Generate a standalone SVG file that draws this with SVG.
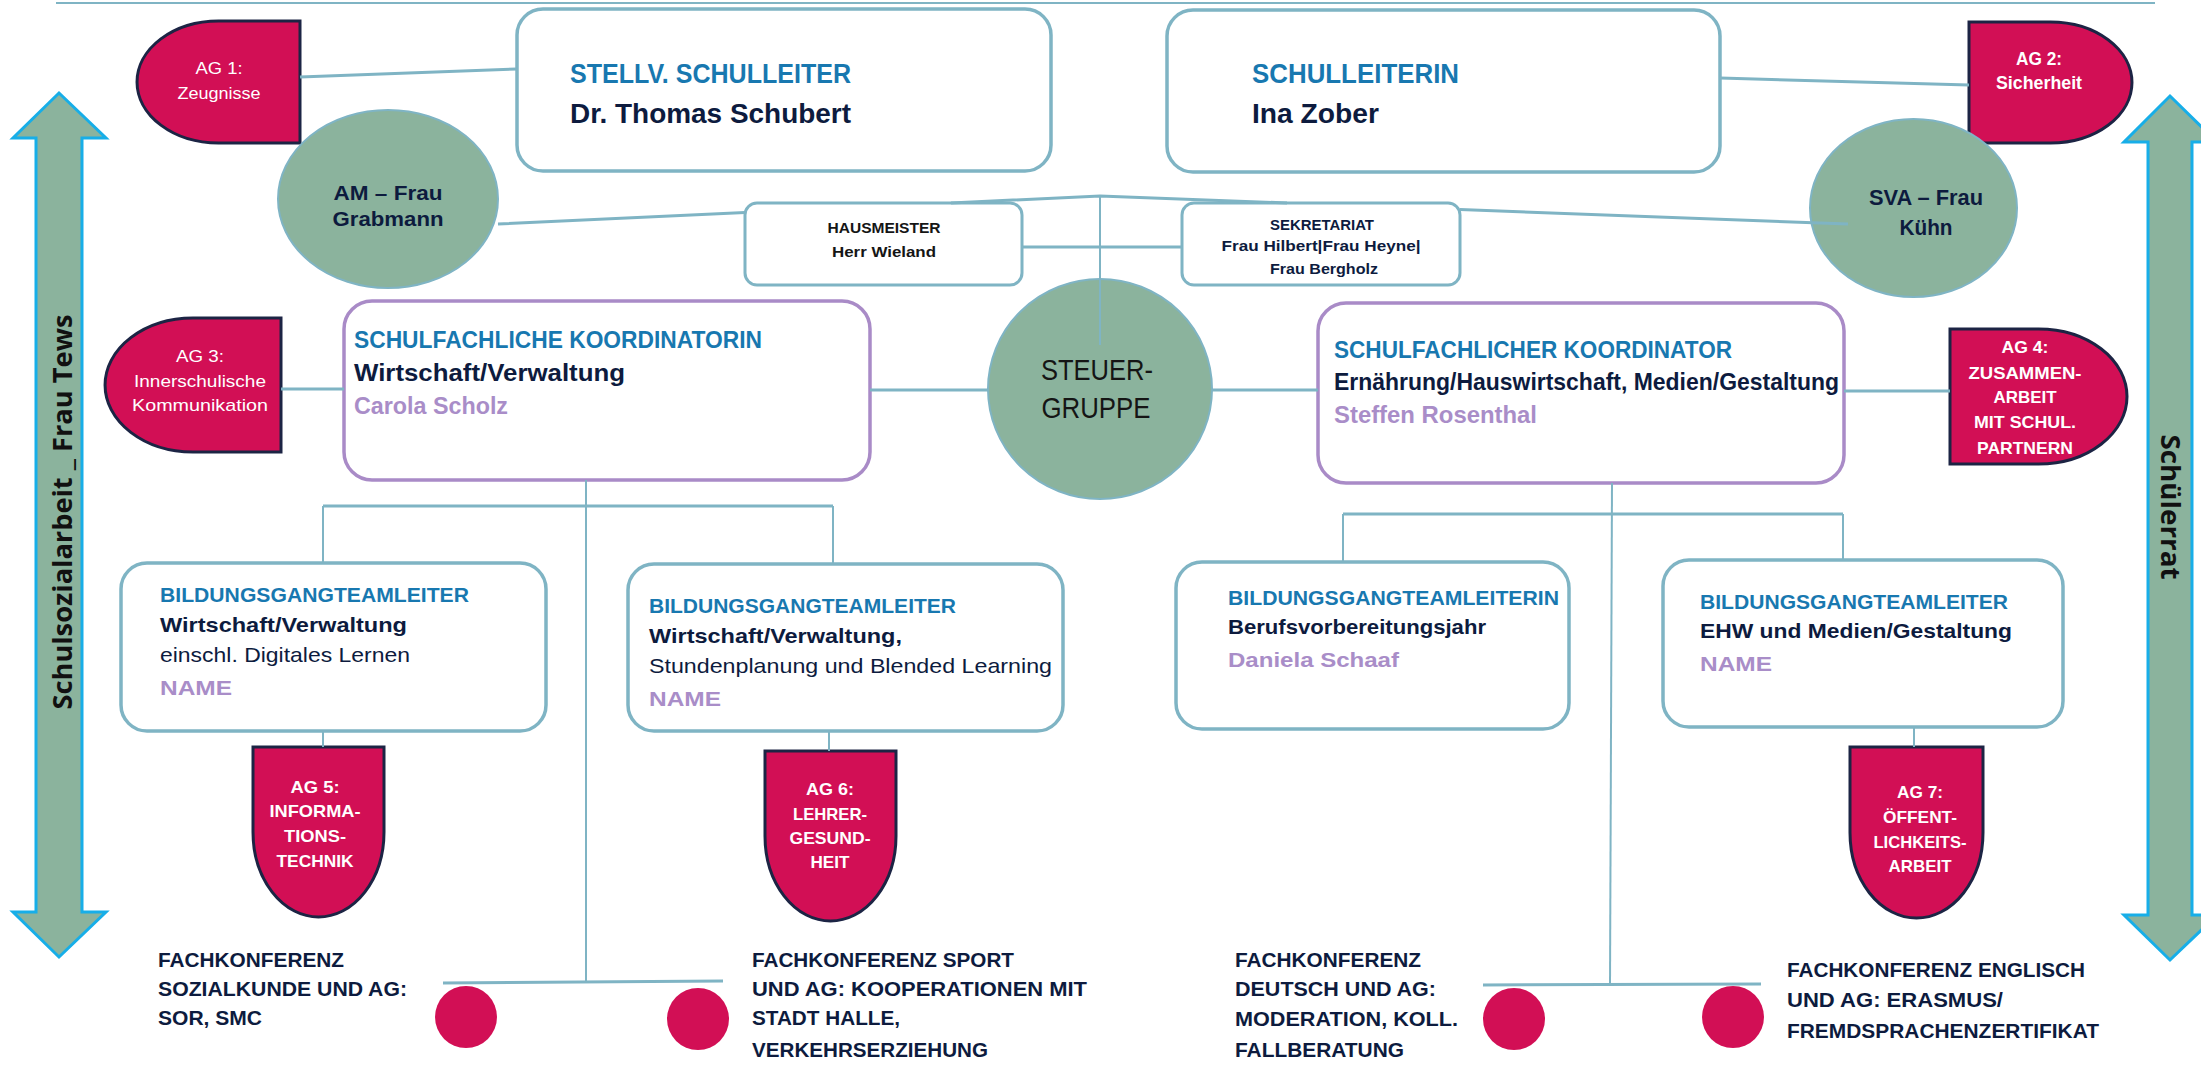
<svg xmlns="http://www.w3.org/2000/svg" width="2201" height="1073" viewBox="0 0 2201 1073">
<style>
text{font-family:"Liberation Sans",Arial,sans-serif}
.b{font-weight:bold}
.blue{fill:#1878b0}
.navy{fill:#0d1b3e}
.purp{fill:#a98dc8}
.wh{fill:#ffffff}
.blk{fill:#151515}
.side{font-family:"Open Sans","DejaVu Sans",sans-serif;font-weight:bold;fill:#111}
.tbox{fill:#ffffff;stroke:#7fb4c4;stroke-width:3.5}
.sbox{fill:#ffffff;stroke:#7fb4c4;stroke-width:3}
.pbox{fill:#ffffff;stroke:#a98bc7;stroke-width:3.5}
.ag{fill:#d20f55;stroke:#1c2444;stroke-width:3}
.ell{fill:#8bb39d;stroke:#7fb4c4;stroke-width:2}
.arr{fill:#8bb39d;stroke:#17aee8;stroke-width:3}
.con{fill:none;stroke:#7fb4c4;stroke-width:3}
.thin{fill:none;stroke:#7fb4c4;stroke-width:2}
.dot{fill:#d20f55}
</style>
<rect width="2201" height="1073" fill="#ffffff"/>

<!-- side arrows -->
<g id="arrow-schulsozialarbeit">
<polygon class="arr" points="59,93 106,138 82,138 82,912 106,912 59,957 13,912 36,912 36,138 13,138"/>
<text class="side" font-size="27" text-anchor="middle" transform="translate(72,512) rotate(-90)" textLength="395" lengthAdjust="spacingAndGlyphs">Schulsozialarbeit _ Frau Tews</text>
</g>
<g id="arrow-schuelerrat">
<polygon class="arr" points="2170,96 2217,142 2192,142 2192,915 2217,915 2170,960 2124,915 2148,915 2148,142 2124,142"/>
<text class="side" font-size="27" text-anchor="middle" transform="translate(2161,507) rotate(90)" textLength="145" lengthAdjust="spacingAndGlyphs">Schülerrat</text>
</g>

<!-- top boxes -->
<g id="stellv-schulleiter">
<rect class="tbox" x="517" y="9" width="534" height="162" rx="26"/>
<text class="b blue" x="570" y="83" font-size="27" textLength="281" lengthAdjust="spacingAndGlyphs">STELLV. SCHULLEITER</text>
<text class="b navy" x="570" y="123" font-size="28" textLength="281" lengthAdjust="spacingAndGlyphs">Dr. Thomas Schubert</text>
</g>
<g id="schulleiterin">
<rect class="tbox" x="1167" y="10" width="553" height="162" rx="26"/>
<text class="b blue" x="1252" y="83" font-size="27" textLength="207" lengthAdjust="spacingAndGlyphs">SCHULLEITERIN</text>
<text class="b navy" x="1252" y="123" font-size="28" textLength="127" lengthAdjust="spacingAndGlyphs">Ina Zober</text>
</g>

<g id="ag1">
<path class="ag" d="M300,21 L218.5,21 A81.5,61 0 0 0 218.5,143 L300,143 Z"/>
<text class="wh" x="219" y="74" font-size="17" text-anchor="middle" textLength="47" lengthAdjust="spacingAndGlyphs">AG 1:</text>
<text class="wh" x="219" y="99" font-size="17" text-anchor="middle" textLength="83" lengthAdjust="spacingAndGlyphs">Zeugnisse</text>
</g>
<g id="ag2">
<path class="ag" d="M1969,22 L2050.5,22 A81.5,60.5 0 0 1 2050.5,143 L1969,143 Z"/>
<text class="b wh" x="2039" y="65" font-size="18" text-anchor="middle" textLength="46" lengthAdjust="spacingAndGlyphs">AG 2:</text>
<text class="b wh" x="2039" y="89" font-size="18" text-anchor="middle" textLength="86" lengthAdjust="spacingAndGlyphs">Sicherheit</text>
</g>

<g id="am-grabmann">
<ellipse class="ell" cx="388" cy="199" rx="110" ry="89"/>
<text class="b navy" x="388" y="200" font-size="21" text-anchor="middle" textLength="109" lengthAdjust="spacingAndGlyphs">AM – Frau</text>
<text class="b navy" x="388" y="226" font-size="21" text-anchor="middle" textLength="111" lengthAdjust="spacingAndGlyphs">Grabmann</text>
</g>
<g id="sva-kuehn">
<ellipse class="ell" cx="1913.5" cy="208" rx="103.5" ry="89"/>
<text class="b navy" x="1926" y="205" font-size="22" text-anchor="middle" textLength="114" lengthAdjust="spacingAndGlyphs">SVA – Frau</text>
<text class="b navy" x="1926" y="235" font-size="22" text-anchor="middle" textLength="53" lengthAdjust="spacingAndGlyphs">Kühn</text>
</g>

<g id="hausmeister">
<rect class="sbox" x="745" y="203" width="277" height="82" rx="12"/>
<text class="b blk" x="884" y="233" font-size="15" text-anchor="middle" textLength="113" lengthAdjust="spacingAndGlyphs">HAUSMEISTER</text>
<text class="b blk" x="884" y="257" font-size="15" text-anchor="middle" textLength="104" lengthAdjust="spacingAndGlyphs">Herr Wieland</text>
</g>
<g id="sekretariat">
<rect class="sbox" x="1182" y="203" width="278" height="82" rx="12"/>
<text class="b navy" x="1322" y="230" font-size="15" text-anchor="middle" textLength="104" lengthAdjust="spacingAndGlyphs">SEKRETARIAT</text>
<text class="b navy" x="1321" y="251" font-size="15" text-anchor="middle" textLength="199" lengthAdjust="spacingAndGlyphs">Frau Hilbert|Frau Heyne|</text>
<text class="b navy" x="1324" y="274" font-size="15" text-anchor="middle" textLength="108" lengthAdjust="spacingAndGlyphs">Frau Bergholz</text>
</g>

<g id="steuergruppe">
<ellipse class="ell" cx="1100" cy="389" rx="112" ry="110"/>
<text class="blk" x="1097" y="380" font-size="30" text-anchor="middle" textLength="112" lengthAdjust="spacingAndGlyphs">STEUER-</text>
<text class="blk" x="1096" y="418" font-size="30" text-anchor="middle" textLength="109" lengthAdjust="spacingAndGlyphs">GRUPPE</text>
</g>

<g id="koordinatorin">
<rect class="pbox" x="344" y="301" width="526" height="179" rx="28"/>
<text class="b blue" x="354" y="348" font-size="24" textLength="408" lengthAdjust="spacingAndGlyphs">SCHULFACHLICHE KOORDINATORIN</text>
<text class="b navy" x="354" y="381" font-size="24" textLength="271" lengthAdjust="spacingAndGlyphs">Wirtschaft/Verwaltung</text>
<text class="b purp" x="354" y="414" font-size="24" textLength="154" lengthAdjust="spacingAndGlyphs">Carola Scholz</text>
</g>
<g id="koordinator">
<rect class="pbox" x="1318" y="303" width="526" height="180" rx="28"/>
<text class="b blue" x="1334" y="358" font-size="24" textLength="398" lengthAdjust="spacingAndGlyphs">SCHULFACHLICHER KOORDINATOR</text>
<text class="b navy" x="1334" y="390" font-size="24" textLength="505" lengthAdjust="spacingAndGlyphs">Ernährung/Hauswirtschaft, Medien/Gestaltung</text>
<text class="b purp" x="1334" y="423" font-size="24" textLength="203" lengthAdjust="spacingAndGlyphs">Steffen Rosenthal</text>
</g>

<g id="ag3">
<path class="ag" d="M281,318 L193,318 A88,67 0 0 0 193,452 L281,452 Z"/>
<text class="wh" x="200" y="362" font-size="17" text-anchor="middle" textLength="48" lengthAdjust="spacingAndGlyphs">AG 3:</text>
<text class="wh" x="200" y="387" font-size="17" text-anchor="middle" textLength="132" lengthAdjust="spacingAndGlyphs">Innerschulische</text>
<text class="wh" x="200" y="411" font-size="17" text-anchor="middle" textLength="136" lengthAdjust="spacingAndGlyphs">Kommunikation</text>
</g>
<g id="ag4">
<path class="ag" d="M1950,329 L2038.5,329 A88.5,67.5 0 0 1 2038.5,464 L1950,464 Z"/>
<text class="b wh" x="2025" y="353" font-size="16.5" text-anchor="middle" textLength="47" lengthAdjust="spacingAndGlyphs">AG 4:</text>
<text class="b wh" x="2025" y="379" font-size="16.5" text-anchor="middle" textLength="113" lengthAdjust="spacingAndGlyphs">ZUSAMMEN-</text>
<text class="b wh" x="2025" y="403" font-size="16.5" text-anchor="middle" textLength="63" lengthAdjust="spacingAndGlyphs">ARBEIT</text>
<text class="b wh" x="2025" y="428" font-size="16.5" text-anchor="middle" textLength="102" lengthAdjust="spacingAndGlyphs">MIT SCHUL.</text>
<text class="b wh" x="2025" y="454" font-size="16.5" text-anchor="middle" textLength="96" lengthAdjust="spacingAndGlyphs">PARTNERN</text>
</g>

<g id="bgt-1">
<rect class="tbox" x="121" y="563" width="425" height="168" rx="26"/>
<text class="b blue" x="160" y="602" font-size="21" textLength="309" lengthAdjust="spacingAndGlyphs">BILDUNGSGANGTEAMLEITER</text>
<text class="b navy" x="160" y="632" font-size="21" textLength="247" lengthAdjust="spacingAndGlyphs">Wirtschaft/Verwaltung</text>
<text class="navy" x="160" y="662" font-size="21" textLength="250" lengthAdjust="spacingAndGlyphs">einschl. Digitales Lernen</text>
<text class="b purp" x="160" y="695" font-size="21" textLength="72" lengthAdjust="spacingAndGlyphs">NAME</text>
</g>
<g id="bgt-2">
<rect class="tbox" x="628" y="564" width="435" height="167" rx="26"/>
<text class="b blue" x="649" y="613" font-size="21" textLength="307" lengthAdjust="spacingAndGlyphs">BILDUNGSGANGTEAMLEITER</text>
<text class="b navy" x="649" y="643" font-size="21" textLength="253" lengthAdjust="spacingAndGlyphs">Wirtschaft/Verwaltung,</text>
<text class="navy" x="649" y="673" font-size="21" textLength="403" lengthAdjust="spacingAndGlyphs">Stundenplanung und Blended Learning</text>
<text class="b purp" x="649" y="706" font-size="21" textLength="72" lengthAdjust="spacingAndGlyphs">NAME</text>
</g>
<g id="bgt-3">
<rect class="tbox" x="1176" y="562" width="393" height="167" rx="26"/>
<text class="b blue" x="1228" y="605" font-size="21" textLength="331" lengthAdjust="spacingAndGlyphs">BILDUNGSGANGTEAMLEITERIN</text>
<text class="b navy" x="1228" y="634" font-size="21" textLength="258" lengthAdjust="spacingAndGlyphs">Berufsvorbereitungsjahr</text>
<text class="b purp" x="1228" y="667" font-size="21" textLength="171" lengthAdjust="spacingAndGlyphs">Daniela Schaaf</text>
</g>
<g id="bgt-4">
<rect class="tbox" x="1663" y="560" width="400" height="167" rx="26"/>
<text class="b blue" x="1700" y="609" font-size="21" textLength="308" lengthAdjust="spacingAndGlyphs">BILDUNGSGANGTEAMLEITER</text>
<text class="b navy" x="1700" y="638" font-size="21" textLength="312" lengthAdjust="spacingAndGlyphs">EHW und Medien/Gestaltung</text>
<text class="b purp" x="1700" y="671" font-size="21" textLength="72" lengthAdjust="spacingAndGlyphs">NAME</text>
</g>

<g id="ag5">
<path class="ag" d="M253,747 L384,747 L384,832 A65.5,85 0 0 1 253,832 Z"/>
<text class="b wh" x="315" y="793" font-size="17" text-anchor="middle" textLength="49" lengthAdjust="spacingAndGlyphs">AG 5:</text>
<text class="b wh" x="315" y="817" font-size="17" text-anchor="middle" textLength="91" lengthAdjust="spacingAndGlyphs">INFORMA-</text>
<text class="b wh" x="315" y="842" font-size="17" text-anchor="middle" textLength="62" lengthAdjust="spacingAndGlyphs">TIONS-</text>
<text class="b wh" x="315" y="867" font-size="17" text-anchor="middle" textLength="77" lengthAdjust="spacingAndGlyphs">TECHNIK</text>
</g>
<g id="ag6">
<path class="ag" d="M765,751 L896,751 L896,836 A65.5,85 0 0 1 765,836 Z"/>
<text class="b wh" x="830" y="795" font-size="17" text-anchor="middle" textLength="48" lengthAdjust="spacingAndGlyphs">AG 6:</text>
<text class="b wh" x="830" y="820" font-size="17" text-anchor="middle" textLength="74" lengthAdjust="spacingAndGlyphs">LEHRER-</text>
<text class="b wh" x="830" y="844" font-size="17" text-anchor="middle" textLength="81" lengthAdjust="spacingAndGlyphs">GESUND-</text>
<text class="b wh" x="830" y="868" font-size="17" text-anchor="middle" textLength="39" lengthAdjust="spacingAndGlyphs">HEIT</text>
</g>
<g id="ag7">
<path class="ag" d="M1850,747 L1983,747 L1983,832.5 A66.5,85.5 0 0 1 1850,832.5 Z"/>
<text class="b wh" x="1920" y="798" font-size="17" text-anchor="middle" textLength="46" lengthAdjust="spacingAndGlyphs">AG 7:</text>
<text class="b wh" x="1920" y="823" font-size="17" text-anchor="middle" textLength="74" lengthAdjust="spacingAndGlyphs">ÖFFENT-</text>
<text class="b wh" x="1920" y="848" font-size="17" text-anchor="middle" textLength="93" lengthAdjust="spacingAndGlyphs">LICHKEITS-</text>
<text class="b wh" x="1920" y="872" font-size="17" text-anchor="middle" textLength="63" lengthAdjust="spacingAndGlyphs">ARBEIT</text>
</g>

<g id="fk-sozialkunde">
<circle class="dot" cx="466" cy="1017" r="31"/>
<text class="b navy" x="158" y="967" font-size="21" textLength="186" lengthAdjust="spacingAndGlyphs">FACHKONFERENZ</text>
<text class="b navy" x="158" y="996" font-size="21" textLength="249" lengthAdjust="spacingAndGlyphs">SOZIALKUNDE UND AG:</text>
<text class="b navy" x="158" y="1025" font-size="21" textLength="104" lengthAdjust="spacingAndGlyphs">SOR, SMC</text>
</g>
<g id="fk-sport">
<circle class="dot" cx="698" cy="1019" r="31"/>
<text class="b navy" x="752" y="967" font-size="21" textLength="262" lengthAdjust="spacingAndGlyphs">FACHKONFERENZ SPORT</text>
<text class="b navy" x="752" y="996" font-size="21" textLength="335" lengthAdjust="spacingAndGlyphs">UND AG: KOOPERATIONEN MIT</text>
<text class="b navy" x="752" y="1025" font-size="21" textLength="148" lengthAdjust="spacingAndGlyphs">STADT HALLE,</text>
<text class="b navy" x="752" y="1057" font-size="21" textLength="236" lengthAdjust="spacingAndGlyphs">VERKEHRSERZIEHUNG</text>
</g>
<g id="fk-deutsch">
<circle class="dot" cx="1514" cy="1019" r="31"/>
<text class="b navy" x="1235" y="967" font-size="21" textLength="186" lengthAdjust="spacingAndGlyphs">FACHKONFERENZ</text>
<text class="b navy" x="1235" y="996" font-size="21" textLength="201" lengthAdjust="spacingAndGlyphs">DEUTSCH UND AG:</text>
<text class="b navy" x="1235" y="1026" font-size="21" textLength="223" lengthAdjust="spacingAndGlyphs">MODERATION, KOLL.</text>
<text class="b navy" x="1235" y="1057" font-size="21" textLength="169" lengthAdjust="spacingAndGlyphs">FALLBERATUNG</text>
</g>
<g id="fk-englisch">
<circle class="dot" cx="1733" cy="1017" r="31"/>
<text class="b navy" x="1787" y="977" font-size="21" textLength="298" lengthAdjust="spacingAndGlyphs">FACHKONFERENZ ENGLISCH</text>
<text class="b navy" x="1787" y="1007" font-size="21" textLength="216" lengthAdjust="spacingAndGlyphs">UND AG: ERASMUS/</text>
<text class="b navy" x="1787" y="1038" font-size="21" textLength="312" lengthAdjust="spacingAndGlyphs">FREMDSPRACHENZERTIFIKAT</text>
</g>

<!-- connectors -->
<g id="connectors">
<line class="thin" x1="56" y1="3" x2="2155" y2="3"/>
<line class="con" x1="300" y1="77" x2="517" y2="69"/>
<line class="con" x1="1720" y1="78" x2="1969" y2="85"/>
<path class="con" d="M498,224 L745,212.6 M951,203 L1100,196 L1287,203 M1460,209.5 L1848,224"/>
<line class="thin" x1="1100" y1="197" x2="1100" y2="345"/>
<line class="con" x1="1022" y1="247" x2="1182" y2="247"/>
<line class="con" x1="281" y1="389" x2="344" y2="389"/>
<line class="con" x1="870" y1="390" x2="988" y2="390"/>
<line class="con" x1="1212" y1="390" x2="1318" y2="390"/>
<line class="con" x1="1844" y1="391" x2="1950" y2="391"/>
<line class="thin" x1="586" y1="480" x2="586" y2="982"/>
<line class="con" x1="323" y1="506" x2="833" y2="506"/>
<line class="thin" x1="323" y1="506" x2="323" y2="563"/>
<line class="thin" x1="833" y1="506" x2="833" y2="564"/>
<line class="thin" x1="1612" y1="483" x2="1610" y2="985"/>
<line class="con" x1="1343" y1="514" x2="1843" y2="514"/>
<line class="thin" x1="1343" y1="514" x2="1343" y2="562"/>
<line class="thin" x1="1843" y1="514" x2="1843" y2="560"/>
<line class="thin" x1="323" y1="731" x2="323" y2="747"/>
<line class="thin" x1="829" y1="731" x2="829" y2="751"/>
<line class="thin" x1="1914" y1="727" x2="1914" y2="747"/>
<line class="con" x1="443" y1="983" x2="723" y2="981"/>
<line class="con" x1="1483" y1="985" x2="1761" y2="984"/>
</g>
</svg>
